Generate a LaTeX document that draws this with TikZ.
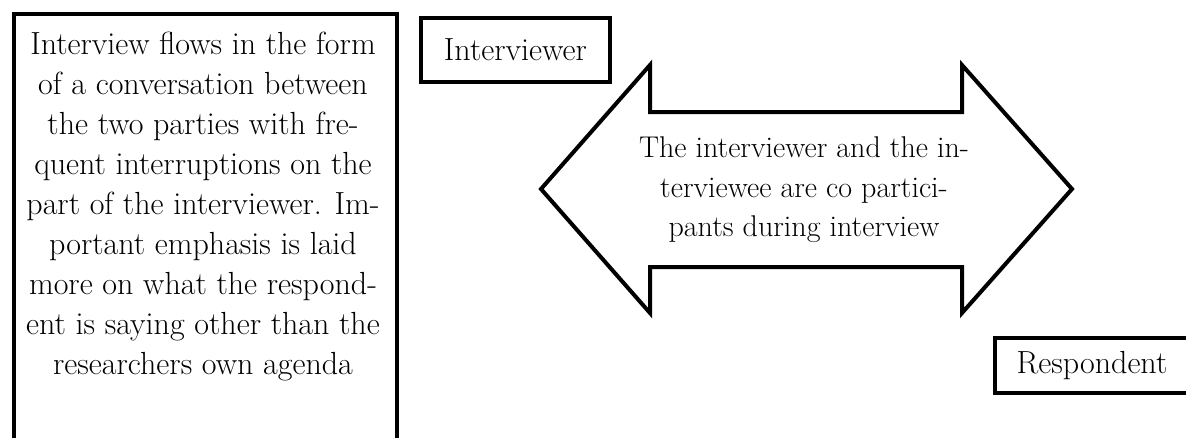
\documentclass[tikz,border=0pt]{standalone}
\usepackage{tikz}
\tikzset{
  frame/.style={draw=black, line width=4pt, line join=miter},
  txt/.style={font=\fontsize{32}{40}\selectfont, align=center, inner sep=0pt},
  arrtxt/.style={font=\fontsize{30}{39.5}\selectfont, align=center, inner sep=0pt},
  labelbox/.style={draw=black, line width=4pt, font=\fontsize{32}{38}\selectfont, inner sep=0pt},
}
\begin{document}
\begin{tikzpicture}[x=1pt,y=-1pt]
\useasboundingbox (0,0) rectangle (1186,437);
\fill[white] (0,0) rectangle (1186,437);
\clip (0,0) rectangle (1186,437);
% left description box (bottom edge lies below the picture)
\node[frame, minimum width=383pt, minimum height=470pt, anchor=north west, inner sep=0pt] (descbox) at (12,12) {};
\node[txt] (desc) at (203,207) {Interview flows in the form\\
of a conversation between\\
the two parties with fre-\\
quent interruptions on the\\
part of the interviewer. Im-\\
portant emphasis is laid\\
more on what the respond-\\
ent is saying other than the\\
researchers own agenda};
% interviewer label
\node[labelbox, minimum width=189pt, minimum height=64pt] (interviewer) at (515.5,50) {Interviewer};
% respondent label (right edge at picture border)
\node[labelbox, minimum width=194pt, minimum height=55pt] (respondent) at (1092,365.5) {Respondent};
% double arrow
\draw[frame] (541,189) -- (650,65) -- (650,112) -- (962,112) -- (962,65) -- (1072,189)
  -- (962,313) -- (962,267) -- (650,267) -- (650,313) -- cycle;
\node[arrtxt] (arrowtext) at (804,190) {The interviewer and the in-\\
terviewee are co partici-\\
pants during interview};
\end{tikzpicture}
\end{document}
